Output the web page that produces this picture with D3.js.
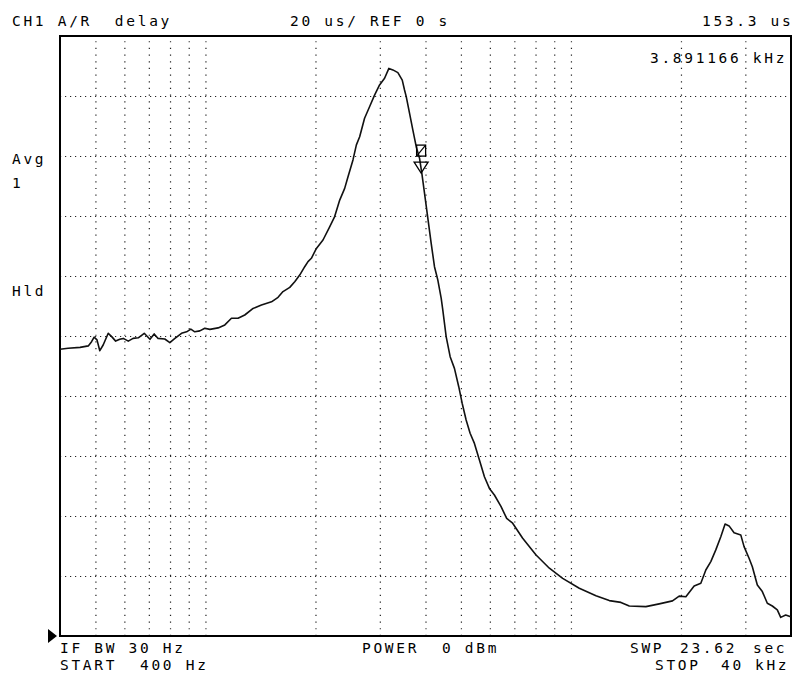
<!DOCTYPE html>
<html>
<head>
<meta charset="utf-8">
<script src="https://cdn.jsdelivr.net/npm/d3@7"></script>
<style>
  html, body { margin: 0; padding: 0; background: #fff; }
  svg { display: block; }
  text { font-family: "DejaVu Sans Mono", "Liberation Mono", monospace; font-size: 14.5px; letter-spacing: 2.7px; fill: #000; white-space: pre; }
</style>
</head>
<body>
<svg id="chart" width="795" height="673"></svg>
<script>
// ---- data (frequency in Hz, group delay in microseconds) ----
const freqHz = [400,421,454,478,488,496,505,514,525,542,554,568,583,596,615,634,655,680,705,724,742,774,799,825,860,888,912,935,965,996,1028,1083,1130,1178,1228,1281,1350,1423,1516,1580,1630,1701,1755,1811,1869,1908,1949,2012,2097,2187,2257,2330,2404,2455,2533,2588,2642,2725,2812,2902,2995,3091,3176,3257,3361,3455,3505,3543,3618,3693,3773,3853,3909,3975,4043,4146,4233,4322,4415,4460,4556,4672,4800,4932,5039,5167,5298,5444,5618,5798,5983,6174,6440,6671,6927,7378,8027,8729,9493,10539,11706,12733,13701,14439,16036,17438,18959,19774,20625,21730,22665,23389,24136,24907,25703,26408,27080,27945,29148,29760,30711,31354,32356,33390,34457,35558,36694,37488,38687,39924];
const delayUs = [95.6,95.9,96.2,96.7,98.1,99.6,98.7,95.1,97.0,100.9,99.8,98.3,98.9,99.2,98.3,99.2,99.4,100.9,98.9,100.7,99.2,99.0,97.8,99.2,100.9,101.4,102.3,101.4,101.7,102.6,102.2,102.7,103.7,105.9,105.9,107.0,109.2,110.3,111.4,112.9,114.8,116.2,118.1,120.3,123.1,124.8,125.9,129.2,132.0,136.4,139.8,145.3,149.2,153.1,158.7,163.7,166.4,172.6,176.4,180.3,183.7,185.9,189.2,188.7,187.8,185.3,182.0,179.8,174.2,168.7,163.1,159.2,154.2,147.6,140.9,130.9,123.1,118.7,112.6,108.7,99.8,93.1,89.2,83.1,77.6,72.0,67.6,64.2,58.7,53.1,49.2,47.0,43.1,39.2,37.6,32.6,27.0,22.6,19.2,15.9,13.4,11.8,11.2,10.0,9.8,10.7,11.7,13.3,13.1,16.7,17.6,22.0,24.8,28.7,33.1,37.3,36.7,34.4,33.7,29.8,25.9,23.1,17.0,14.8,10.9,10.0,8.7,6.2,7.0,6.4];

const freqDomain = [400, 40000];
const delayDomain = [0, 200];
const gridFreqs = [500,600,700,800,900,1000,2000,3000,4000,5000,6000,7000,8000,9000,10000,20000,30000];
const delayTicks = [20,40,60,80,100,120,140,160,180];

const markerFreq = 3891.166;
const markerDelay = 153.3;

const headerLeft = "CH1 A/R  delay";
const headerMid = "20 us/ REF 0 s";
const headerRight = "153.3 us";
const markerText = "3.891166 kHz";
const sideLabels = ["Avg", "1", "Hld"];
const footLeft = ["IF BW 30 Hz", "START  400 Hz"];
const footMid = "POWER  0 dBm";
const footRight1 = ["SWP", "23.62", "sec"];
const footRight2 = ["STOP", "40", "kHz"];

// ---- layout ----
const L = 60, R = 791, T = 36, B = 636;
const svg = d3.select("#chart");

const x = d3.scaleLog().domain(freqDomain).range([L, R]);
const y = d3.scaleLinear().domain(delayDomain).range([B, T]);

// grid via axes
const gx = svg.append("g").attr("transform", `translate(0,${B})`)
  .call(d3.axisBottom(x).tickValues(gridFreqs).tickSize(-(B - T)).tickFormat(""));
gx.select(".domain").remove();
gx.selectAll("line").attr("stroke", "#222").attr("stroke-width", 1.2).attr("stroke-dasharray", "1.2,5.47");

const gy = svg.append("g").attr("transform", `translate(${L},0)`)
  .call(d3.axisLeft(y).tickValues(delayTicks).tickSize(-(R - L)).tickFormat(""));
gy.select(".domain").remove();
gy.selectAll("line").attr("stroke", "#222").attr("stroke-width", 1.2).attr("stroke-dasharray", "1.2,3.8");

// frame
svg.append("rect").attr("x", L).attr("y", T).attr("width", R - L).attr("height", B - T)
  .attr("fill", "none").attr("stroke", "#000").attr("stroke-width", 2);

// trace
const pts = freqHz.map((f, i) => [f, delayUs[i]]);
svg.append("path").datum(pts)
  .attr("fill", "none").attr("stroke", "#111").attr("stroke-width", 1.6)
  .attr("stroke-linejoin", "round")
  .attr("d", d3.line().x(d => x(d[0])).y(d => y(d[1])));

// marker
const mx = x(markerFreq), my = y(markerDelay) - 3;
svg.append("path")
  .attr("d", `M${mx - 7},${my - 11} L${mx + 7},${my - 11} L${mx},${my} Z`)
  .attr("fill", "none").attr("stroke", "#000").attr("stroke-width", 1.3);
svg.append("rect").attr("x", mx - 4.5).attr("y", my - 28).attr("width", 9).attr("height", 11)
  .attr("fill", "none").attr("stroke", "#000").attr("stroke-width", 1.3);
svg.append("line").attr("x1", mx - 4.5).attr("y1", my - 17).attr("x2", mx + 4.5).attr("y2", my - 28)
  .attr("stroke", "#000").attr("stroke-width", 1.2);

// reference position arrow
svg.append("path").attr("d", `M${L - 12},${B - 7} L${L - 3},${B} L${L - 12},${B + 7} Z`).attr("fill", "#000");

// texts
function txt(s, tx, ty, anchor) {
  svg.append("text").attr("x", tx).attr("y", ty).attr("text-anchor", anchor || "start")
    .attr("xml:space", "preserve").text(s);
}
txt(headerLeft, 12, 26);
txt(headerMid, 290, 26);
txt(headerRight, 702, 26);
txt(markerText, 650, 63);
txt(sideLabels[0], 12, 164);
txt(sideLabels[1], 12, 188);
txt(sideLabels[2], 12, 296);
txt(footLeft[0], 60, 653);
txt(footLeft[1], 60, 670);
txt(footMid, 362, 653);
txt(footRight1[0], 630, 653);
txt(footRight1[1], 680, 653);
txt(footRight1[2], 753, 653);
txt(footRight2[0], 655, 670);
txt(footRight2[1], 721, 670);
txt(footRight2[2], 755, 670);
</script>
</body>
</html>
